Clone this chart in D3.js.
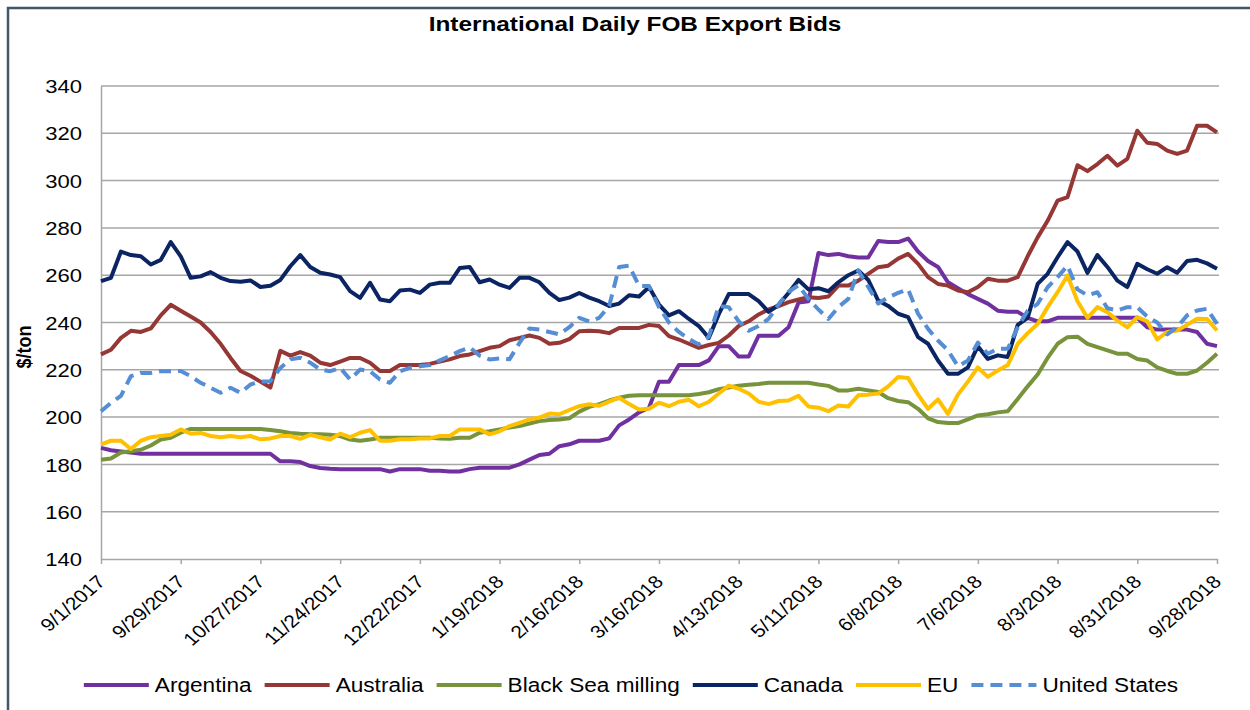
<!DOCTYPE html>
<html>
<head>
<meta charset="utf-8">
<script src="https://cdnjs.cloudflare.com/ajax/libs/d3/7.8.5/d3.min.js"></script>
<style>
body { margin: 0; background: #fff; }
text { font-family: Arial, "Liberation Sans", sans-serif; fill: #000; }
</style>
</head>
<body>
<div id="graph"></div>
<script>
var w = 1250, h = 710
var sx = 1.16

// twice-weekly readings, 9/1/2017 .. 9/28/2018
var startDate = new Date(2017, 8, 1)
var dates = d3.range(113).map(function(i){ return d3.timeHour.offset(startDate, i * 84) })
var tickDates = d3.range(15).map(function(i){ return d3.timeDay.offset(startDate, i * 28) })
var yTicks = [140, 160, 180, 200, 220, 240, 260, 280, 300, 320, 340]

var argentina = [
  187, 186, 185.5, 185, 184.5, 184.5, 184.5, 184.5, 184.5, 184.5,
  184.5, 184.5, 184.5, 184.5, 184.5, 184.5, 184.5, 184.5, 181.3, 181.3,
  181, 179.3, 178.5, 178.2, 178, 178, 178, 178, 178, 177,
  178, 178, 178, 177.3, 177.3, 177, 177, 178, 178.6, 178.6,
  178.6, 178.6, 180, 182, 184, 184.5, 187.7, 188.5, 190, 190,
  190, 191, 196.5, 199, 202, 204, 215, 215, 222, 222,
  222, 224, 230, 230, 225.6, 225.6, 234.4, 234.4, 234.4, 238,
  248.4, 249, 269.4, 268.5, 269, 268, 267.5, 267.5, 274.5, 274,
  274, 275.5, 270, 266, 263.5, 257, 254.5, 252, 250, 248,
  245, 244.5, 244.5, 242, 240.5, 240.5, 242, 242, 242, 242,
  242, 242, 242, 242, 242, 238, 237, 237, 237, 237,
  236, 231, 230]
var australia = [
  226.5, 228.5, 233.5, 236.5, 236, 237.5, 243, 247.5, 245, 242.5,
  240, 236, 231, 225, 219.5, 217.5, 215, 212.5, 228, 226,
  227.5, 226, 223, 222, 223.5, 225, 225, 223, 219.5, 219.5,
  222, 222, 222, 222.5, 223.5, 224.4, 225.8, 226.5, 227.9, 229.3,
  230, 232.5, 233.5, 234.5, 233.5, 231, 231.4, 233, 236.3, 236.5,
  236.3, 235.5, 237.7, 237.7, 237.7, 239, 238.5, 234.2, 232.8, 231,
  229.3, 230.5, 231.4, 234.5, 238.5, 240.5, 243.4, 245.5, 246.9, 248.6,
  249.7, 250.7, 250.4, 251, 255.6, 255.6, 257.7, 260.6, 263.4, 264,
  267, 269, 264.8, 259.2, 256.3, 255.6, 253.5, 252.8, 255, 258.5,
  257.7, 257.7, 259.2, 268, 276, 283, 291.5, 293, 306.5, 304,
  307, 310.5, 306.3, 309.2, 321.1, 316, 315.5, 312.7, 311.3, 312.7,
  323.2, 323.2, 320.4]
var blackSea = [
  182, 182.5, 185, 185.6, 186.2, 188, 190.5, 191.3, 193.4, 195,
  195, 195, 195, 195, 195, 195, 195, 194.5, 194, 193.3,
  193, 192.8, 192.7, 192.5, 192, 190.5, 190, 190.5, 191.3, 191.3,
  191.3, 191.3, 191.3, 191.3, 191, 190.8, 191.3, 191.3, 193.4, 194,
  194.8, 195.6, 196.2, 197.3, 198.3, 198.8, 199, 199.5, 202.3, 204.3,
  205.5, 207, 208.2, 209, 209.2, 209.2, 209.2, 209.2, 209.2, 209.2,
  209.8, 210.5, 211.8, 212.5, 213.3, 213.7, 214, 214.5, 214.5, 214.5,
  214.5, 214.5, 213.8, 213.2, 211.3, 211.3, 212, 211.3, 210.6, 208,
  206.8, 206.3, 203.5, 199.5, 197.9, 197.5, 197.5, 199, 200.7, 201.2,
  202, 202.5, 207.7, 213, 218, 225, 231, 233.8, 234, 231,
  229.6, 228.2, 226.8, 226.8, 224.6, 223.9, 221, 219.5, 218.3, 218.3,
  219.7, 223, 226.8]
var canada = [
  257.5, 258.9, 270, 268.5, 268, 264.5, 266.5, 274, 268, 258.9,
  259.5, 261.3, 258.9, 257.5, 257.2, 257.8, 255, 255.5, 258, 263.8,
  268.5, 263.5, 261, 260.3, 259.2, 253.3, 250.4, 256.8, 249.7, 249,
  253.5, 253.9, 252.5, 256, 256.8, 256.8, 263, 263.5, 257, 258.2,
  256, 254.6, 258.9, 258.9, 257, 252.5, 249.5, 250.5, 252.5, 250.5,
  249, 247, 248, 251.5, 251, 255, 247.6, 243, 244.8, 241.5,
  238.5, 233.5, 243.5, 252, 252, 252, 249, 244.5, 247.5, 252.5,
  258, 254, 254.5, 253.2, 257, 260, 262, 258, 249.3, 247,
  243.7, 242.3, 233.8, 231, 223.9, 218.3, 218.3, 221, 230, 224.6,
  226.1, 225.4, 239, 242, 256.3, 260.6, 267.6, 274, 270, 261,
  268.5, 263.5, 257.7, 255, 264.8, 262.5, 260.6, 263.4, 261, 266,
  266.5, 265, 262.7]
var eu = [
  188.5, 190, 190, 186.5, 190, 191.5, 192, 192.5, 194.8, 193,
  193.3, 192, 191.5, 192, 191.5, 192, 190.6, 191, 192, 192,
  190.8, 192.5, 191.5, 190.5, 193, 191.5, 193.4, 194.5, 190, 190,
  190.6, 190.6, 191, 191, 192, 192, 194.8, 194.8, 194.8, 192.7,
  194, 196.2, 197.6, 199, 199.8, 201.5, 201.2, 203, 204.6, 205.4,
  204.8, 206.5, 208.2, 205.5, 203.2, 203.5, 206.1, 204.6, 206.5, 207.3,
  204.6, 206.5, 210, 213.3, 212, 210, 206.5, 205.5, 206.8, 207,
  209, 204.5, 204, 202.5, 204.9, 204.5, 209.2, 209.5, 210, 213,
  217, 216.5, 209.5, 203.5, 207.5, 201.4, 209.5, 215, 221, 217,
  219.7, 222, 231, 235.5, 239.4, 246.5, 252.8, 259.9, 249, 242,
  246.5, 244.4, 240.8, 238, 242.3, 240.5, 232.8, 236, 236.6, 239,
  241.6, 241.5, 236.6]
var unitedStates = [
  202.5, 206, 209, 217.3, 218.7, 218.7, 219.4, 219.4, 219.5, 217.3,
  214.5, 212.4, 210.3, 212.4, 210.3, 213.8, 215, 215.2, 220.8, 224.4,
  225.1, 223, 220.1, 219.4, 220.8, 215.9, 220.1, 219.4, 215.9, 214.5,
  219.4, 220.8, 221.5, 222, 224, 225.8, 227.9, 229.5, 226, 224.4,
  224.8, 224.5, 231.4, 237.5, 237, 236, 235, 238, 242, 240.5,
  242, 247, 263.5, 264, 255.5, 255.4, 246.5, 240, 236, 233,
  230.7, 234, 247, 246.5, 240.5, 236.5, 238.5, 241.5, 247.6, 253,
  255.7, 250, 245.5, 241.5, 246.5, 250, 262, 255, 248, 250.7,
  252.5, 254, 243.7, 237.3, 232.4, 228.2, 221.5, 223.9, 231.5, 226.8,
  228.9, 228.9, 238, 245, 247.9, 254.9, 259.2, 264, 254, 251.5,
  252.8, 246, 245.1, 246.5, 246.5, 242.5, 240, 235, 238, 243,
  245.1, 245.8, 239.4]

var seriesNames = ['Argentina', 'Australia', 'Black Sea milling', 'Canada', 'EU', 'United States']
var seriesColors = ['#7030A0', '#953735', '#77933C', '#0B2463', '#FFC000', '#558ED5']
var seriesValues = [argentina, australia, blackSea, canada, eu, unitedStates]

var svg = d3.select('#graph').append('svg')
    .attr('width', w).attr('height', h)

svg.append('rect')
    .attr('x', 8).attr('y', 8).attr('width', w).attr('height', h)
    .style('fill', '#fff').style('stroke', '#44546A').style('stroke-width', 2.5)

var x = d3.scaleTime().domain([dates[0], dates[dates.length - 1]]).range([101, 1217])
var y = d3.scaleLinear().domain([140, 340]).range([559, 86])

svg.append('text')
    .attr('transform', 'translate(635,31) scale(' + sx + ',1)')
    .attr('text-anchor', 'middle')
    .style('font-size', '21px').style('font-weight', 'bold')
    .text('International Daily FOB Export Bids')

svg.selectAll('line.grid').data(yTicks.slice(1)).enter().append('line')
    .attr('class', 'grid')
    .attr('x1', 101).attr('x2', 1219)
    .attr('y1', y).attr('y2', y)
    .style('stroke', '#A6A6A6').style('stroke-width', 1.5)

var yAxis = svg.append('g')
    .attr('transform', 'translate(101,0)')
    .call(d3.axisLeft(y).tickValues(yTicks).tickSize(0).tickPadding(0))
yAxis.select('.domain').style('stroke', '#A6A6A6').style('stroke-width', 1.5)
yAxis.selectAll('text')
    .attr('x', 0).attr('dy', '0.35em')
    .attr('transform', 'translate(-19,0) scale(' + sx + ',1)')
    .style('font-size', '19px').style('font-family', 'Arial, "Liberation Sans", sans-serif')

var xAxis = svg.append('g')
    .attr('transform', 'translate(0,559)')
    .call(d3.axisBottom(x).tickValues(tickDates).tickSize(5).tickSizeOuter(0)
      .tickFormat(d3.timeFormat('%-m/%-d/%Y')))
xAxis.select('.domain').style('stroke', '#A6A6A6').style('stroke-width', 1.5)
xAxis.selectAll('.tick line').style('stroke', '#A6A6A6').style('stroke-width', 1.5)
xAxis.selectAll('text')
    .attr('x', 0).attr('y', 0).attr('dy', 0)
    .attr('text-anchor', 'end')
    .attr('transform', 'translate(5,24) scale(' + sx + ',1) rotate(-45)')
    .style('font-size', '18px').style('font-family', 'Arial, "Liberation Sans", sans-serif')

svg.append('text')
    .attr('transform', 'translate(31,347) scale(' + sx + ',1) rotate(-90)')
    .attr('text-anchor', 'middle')
    .style('font-size', '18px').style('font-weight', 'bold')
    .text('$/ton')

var line = d3.line()
    .x(function(d, i){ return x(dates[i]) })
    .y(function(d){ return y(d) })

seriesValues.forEach(function(vals, s){
  svg.append('path')
      .attr('d', line(vals))
      .style('fill', 'none')
      .style('stroke', seriesColors[s])
      .style('stroke-width', 4)
      .style('stroke-linejoin', 'round')
      .style('stroke-dasharray', s == 5 ? '12,7' : null)
})

var legend = svg.append('g')
var items = legend.selectAll('g').data(seriesNames).enter().append('g')
items.append('line')
    .attr('x1', 0).attr('x2', 65).attr('y1', 0).attr('y2', 0)
    .style('stroke', function(d, i){ return seriesColors[i] })
    .style('stroke-width', 4)
    .style('stroke-dasharray', function(d, i){ return i == 5 ? '12,7' : null })
items.append('text')
    .attr('transform', 'translate(71,7) scale(' + sx + ',1)')
    .style('font-size', '19.5px')
    .text(function(d){ return d })

var gap = 13, pos = 0, widths = []
items.each(function(d){
  var tw = d3.select(this).select('text').node().getComputedTextLength() * sx
  widths.push(71 + tw)
})
var total = d3.sum(widths) + gap * (widths.length - 1)
pos = 631 - total / 2
items.attr('transform', function(d, i){
  var t = 'translate(' + pos + ',685)'
  pos += widths[i] + gap
  return t
})
</script>
</body>
</html>
